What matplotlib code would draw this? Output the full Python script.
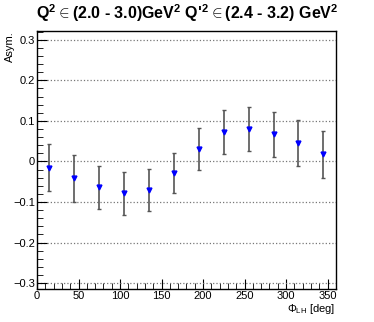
import matplotlib
matplotlib.use('Agg')
import matplotlib.pyplot as plt
from matplotlib.ticker import MultipleLocator

phi = [15, 45, 75, 105, 135, 165, 195, 225, 255, 285, 315, 345]
asym = [-0.015, -0.042, -0.064, -0.078, -0.070, -0.029,
        0.031, 0.073, 0.080, 0.067, 0.045, 0.018]
err = [0.058, 0.057, 0.054, 0.053, 0.052, 0.050,
       0.052, 0.054, 0.055, 0.056, 0.057, 0.058]

title = r"Q$^{\mathbf{2}}$$\in$(2.0 - 3.0)GeV$^{\mathbf{2}}$ Q'$^{\mathbf{2}}$$\in$(2.4 - 3.2) GeV$^{\mathbf{2}}$"

plt.rcParams['font.family'] = ['Liberation Sans', 'DejaVu Sans']
plt.rcParams['mathtext.fontset'] = 'custom'
plt.rcParams['mathtext.rm'] = 'Liberation Sans'
plt.rcParams['mathtext.bf'] = 'Liberation Sans:bold'

fig = plt.figure(figsize=(3.74, 3.22), dpi=100)
ax = fig.add_axes([0.099, 0.102, 0.799, 0.802])

ax.errorbar(phi, asym, yerr=err, fmt='none', ecolor='#555555',
            elinewidth=1.2, capsize=1.5, capthick=1.0, zorder=2)
ax.plot(phi, asym, 'v', color='#0000ff', markersize=3.5, zorder=3)

ax.set_xlim(0, 360)
ax.set_ylim(-0.315, 0.322)
ax.xaxis.set_major_locator(MultipleLocator(50))
ax.xaxis.set_minor_locator(MultipleLocator(10))
ax.yaxis.set_minor_locator(MultipleLocator(0.02))
ax.set_yticks([-0.3, -0.2, -0.1, 0, 0.1, 0.2, 0.3])
ax.set_yticklabels(['\u22120.3', '\u22120.2', '\u22120.1', '0', '0.1', '0.2', '0.3'])

ax.grid(axis='y', which='major', linestyle=':', color='#777777', linewidth=0.9)
ax.tick_params(which='both', direction='in', top=False, right=False,
               labelsize=8)
ax.tick_params(axis='x', pad=1.5)
ax.tick_params(axis='y', pad=1.5)
ax.tick_params(which='major', length=7)
ax.tick_params(which='minor', length=4)
for s in ax.spines.values():
    s.set_linewidth(1.0)

fig.text(0.5, 0.925, title, ha='center', va='bottom', fontsize=11.5,
         fontweight='bold')
fig.text(0.012, 0.904, 'Asym.', rotation=90, ha='left', va='top', fontsize=8)
fig.text(0.898, 0.03, r'$\Phi_{\rm LH}$ [deg]', ha='right', va='baseline',
         fontsize=8)

fig.savefig('out.png', dpi=100)
